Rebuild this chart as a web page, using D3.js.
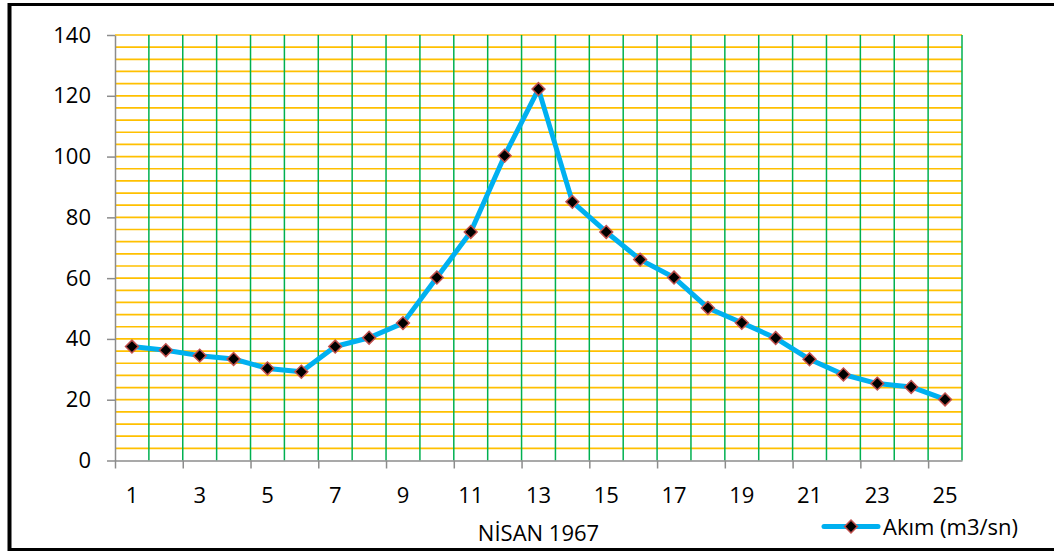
<!DOCTYPE html>
<html><head><meta charset="utf-8">
<script src="https://cdn.jsdelivr.net/npm/d3@7/dist/d3.min.js"></script>
<style>body{margin:0;background:#fff}svg{display:block}text{font-family:"Open Sans",sans-serif;fill:#000}</style>
</head><body>
<svg id="c" width="1054" height="551"></svg>
<script>
const categories = ["1","2","3","4","5","6","7","8","9","10","11","12","13","14","15","16","17","18","19","20","21","22","23","24","25"];
const akim = [37.5,36.3,34.5,33.4,30.3,29.2,37.5,40.4,45.2,60.2,75.2,100.3,122.2,85.1,75.2,66.1,60.2,50.2,45.3,40.3,33.3,28.3,25.3,24.2,20.1];
const yTicks = [0,20,40,60,80,100,120,140];
const xLabels = ["1","3","5","7","9","11","13","15","17","19","21","23","25"];
const xTitle = "NİSAN 1967";
const seriesName = "Akım (m3/sn)";

const svg = d3.select("#c");
const L=115, R=962, T=35, B=460.5;
const x = d3.scaleBand().domain(categories).range([L,R]).padding(0);
const xi = d3.scaleLinear().domain([0,categories.length]).range([L,R]);
const y = d3.scaleLinear().domain([0,140]).range([B,T]);

// border
svg.append("line").attr("x1",9.5).attr("x2",9.5).attr("y1",3).attr("y2",551).attr("stroke","#000").attr("stroke-width",4);
svg.append("line").attr("x1",8).attr("x2",1054).attr("y1",4.5).attr("y2",4.5).attr("stroke","#000").attr("stroke-width",3);
svg.append("line").attr("x1",8).attr("x2",1054).attr("y1",549.5).attr("y2",549.5).attr("stroke","#000").attr("stroke-width",3);

// horizontal minor grid every 4
const hg = d3.range(4,141,4);
svg.append("g").selectAll("line").data(hg).join("line")
  .attr("x1",L).attr("x2",R).attr("y1",d=>y(d)).attr("y2",d=>y(d))
  .attr("stroke","#FFC000").attr("stroke-width",1.7);
// vertical grid at category boundaries
const vg = d3.range(1,categories.length+1);
svg.append("g").selectAll("line").data(vg).join("line")
  .attr("x1",d=>xi(d)).attr("x2",d=>xi(d)).attr("y1",T).attr("y2",B)
  .attr("stroke","#00B050").attr("stroke-width",1.5);

// y axis
const ya = svg.append("g").attr("transform",`translate(${L},0)`)
  .call(d3.axisLeft(y).tickValues(yTicks).tickSize(8).tickPadding(16).tickSizeOuter(0));
ya.select(".domain").attr("stroke","#8c8c8c").attr("stroke-width",1.5);
ya.selectAll(".tick line").attr("stroke","#8c8c8c").attr("stroke-width",1.5);
ya.selectAll("text").attr("font-size",22).attr("font-family","Open Sans");

// x axis ticks at every 2nd boundary
const xa = svg.append("g").attr("transform",`translate(0,${B})`)
  .call(d3.axisBottom(xi).tickValues(d3.range(0,categories.length,2)).tickSize(8).tickFormat("").tickSizeOuter(0));
xa.select(".domain").attr("stroke","#8c8c8c").attr("stroke-width",1.5);
xa.selectAll(".tick line").attr("stroke","#8c8c8c").attr("stroke-width",1.5);
// x labels
svg.append("g").selectAll("text").data(xLabels).join("text")
  .attr("x",d=>x(d)+x.bandwidth()/2).attr("y",503).attr("text-anchor","middle")
  .attr("font-size",22).text(d=>d);
svg.append("text").attr("x",(L+R)/2).attr("y",541).attr("text-anchor","middle").attr("font-size",22).text(xTitle);

// line
const line = d3.line().x((d,i)=>x(categories[i])+x.bandwidth()/2).y(d=>y(d));
svg.append("path").datum(akim).attr("d",line).attr("fill","none")
  .attr("stroke","#00B0F0").attr("stroke-width",5).attr("stroke-linejoin","round");
const sym = d3.symbol().type(d3.symbolDiamond2).size(105);
svg.append("g").selectAll("path").data(akim).join("path")
  .attr("transform",(d,i)=>`translate(${x(categories[i])+x.bandwidth()/2},${y(d)})`)
  .attr("d",sym).attr("fill","#000").attr("stroke","#C0504D").attr("stroke-width",1.5);

// legend
svg.append("line").attr("x1",824).attr("x2",878).attr("y1",526.5).attr("y2",526.5)
  .attr("stroke","#00B0F0").attr("stroke-width",5).attr("stroke-linecap","round");
svg.append("path").attr("transform","translate(851,526.5)").attr("d",sym)
  .attr("fill","#000").attr("stroke","#C0504D").attr("stroke-width",1.5);
svg.append("text").attr("x",883).attr("y",535).attr("font-size",22).text(seriesName);
</script>
</body></html>
